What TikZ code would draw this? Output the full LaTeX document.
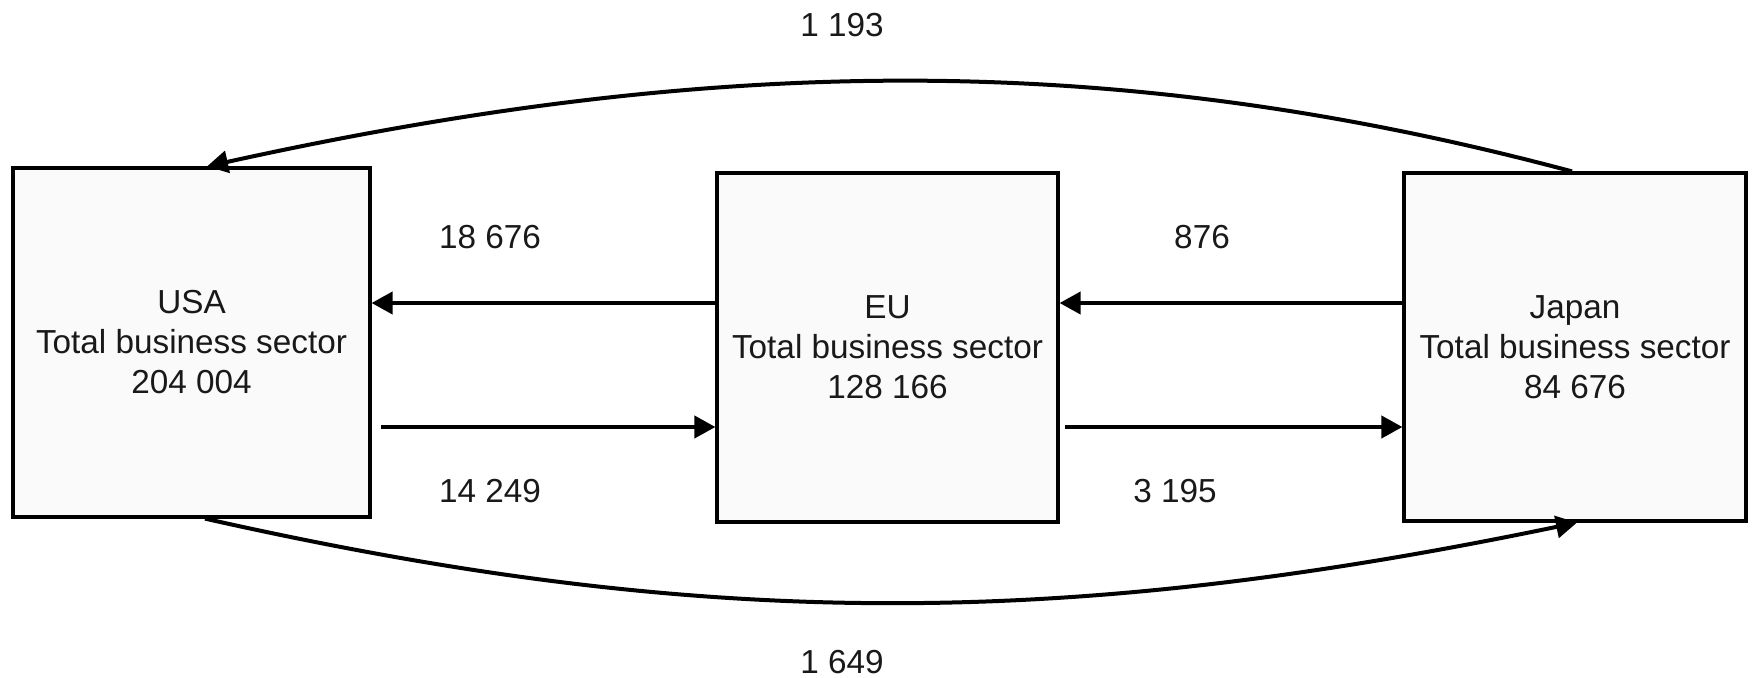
\documentclass[tikz,border=0pt]{standalone}
\usepackage{fontspec}
\setmainfont{Liberation Sans}
\usetikzlibrary{arrows.meta}
\begin{document}
\begin{tikzpicture}[x=1pt,y=-1pt,
  sector/.style={draw=black, line width=3.2pt, fill=black!2, rectangle, inner sep=0pt,
    align=center, font=\fontsize{33.3}{40}\selectfont, text=black!90},
  flow/.style={line width=4pt, -{Triangle[length=21pt,width=22pt]}},
  amount/.style={font=\fontsize{33.3}{40}\selectfont, text=black!90, inner sep=0pt}]
\useasboundingbox (0,0) rectangle (1752,677);
\node[sector, minimum width=357pt, minimum height=349pt] (USA) at (191.5,342.5)
  {USA\\Total business sector\\204 004};
\node[sector, minimum width=341pt, minimum height=349pt] (EU) at (887.5,347.5)
  {EU\\Total business sector\\128 166};
\node[sector, minimum width=342pt, minimum height=348pt] (Japan) at (1575,347)
  {Japan\\Total business sector\\84 676};
\coordinate (s1) at (381,427);
\coordinate (s2) at (1065,427);
\draw[flow] (EU.west |- 0,303) -- (USA.east |- 0,303);
\draw[flow] (Japan.west |- 0,303) -- (EU.east |- 0,303);
\draw[flow] (s1) -- (EU.west |- s1);
\draw[flow] (s2) -- (Japan.west |- s2);
\draw[flow] (Japan.north -| 1572,0) .. controls (1125,52) and (725,52) .. (USA.north -| 207,0);
\draw[flow] (USA.south -| 205,2) .. controls (700,630) and (1060,630) .. (Japan.south -| 1577,0);
\node[amount] (l1193) at (842,25) {1 193};
\node[amount] (l1649) at (842,662) {1 649};
\node[amount] (l18676) at (490,237) {18 676};
\node[amount] (l14249) at (490,491) {14 249};
\node[amount] (l876) at (1202,237) {876};
\node[amount] (l3195) at (1175,491) {3 195};
\end{tikzpicture}
\end{document}
